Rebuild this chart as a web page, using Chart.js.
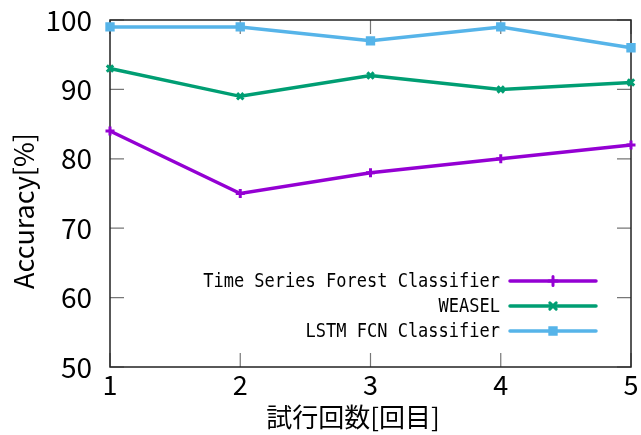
<!DOCTYPE html>
<html>
<head>
<meta charset="utf-8">
<script src="https://cdn.jsdelivr.net/npm/chart.js@4.4.1/dist/chart.umd.min.js"></script>
<style>
  html, body { margin: 0; padding: 0; background: #fff; }
</style>
</head>
<body>
<canvas id="accChart" width="641" height="435"></canvas>
<script>
// data
const trials = [1, 2, 3, 4, 5];
const tsfAcc = [84, 75, 78, 80, 82];
const weaselAcc = [93, 89, 92, 90, 91];
const lstmAcc = [99, 99, 97, 99, 96];
const seriesNames = ['Time Series Forest Classifier', 'WEASEL', 'LSTM FCN Classifier'];
const xTitle = '試行回数[回目]';
const yTitle = 'Accuracy[%]';

const FONT = "'Noto Sans CJK JP', 'Noto Sans', sans-serif";
const toPoints = arr => arr.map((v, i) => ({ x: trials[i], y: v }));

function makeSet(label, data, color, style) {
    return {
        label: label,
        data: toPoints(data),
        borderColor: color,
        backgroundColor: color,
        borderWidth: 3.5,
        pointStyle: style,
        pointRadius: 4.5,
        pointBorderWidth: 3,
        tension: 0,
        clip: false
    };
}

// frame + inward ticks (gnuplot look)
const framePlugin = {
    id: 'frame',
    beforeDatasetsDraw(chart) {
        const { ctx, chartArea: a, scales: { x, y } } = chart;
        const tl = 14;
        ctx.save();
        ctx.strokeStyle = '#777';
        ctx.lineWidth = 1.2;
        ctx.beginPath();
        y.ticks.forEach(t => {
            const py = y.getPixelForValue(t.value);
            ctx.moveTo(a.left, py); ctx.lineTo(a.left + tl, py);
            ctx.moveTo(a.right, py); ctx.lineTo(a.right - tl, py);
        });
        x.ticks.forEach(t => {
            const px = x.getPixelForValue(t.value);
            ctx.moveTo(px, a.bottom); ctx.lineTo(px, a.bottom - tl);
            ctx.moveTo(px, a.top); ctx.lineTo(px, a.top + tl);
        });
        ctx.stroke();
        ctx.strokeStyle = '#222';
        ctx.lineWidth = 1.5;
        ctx.strokeRect(a.left, a.top, a.right - a.left, a.bottom - a.top);
        ctx.restore();
    }
};

// axis titles + key box inside the plot
const labelsPlugin = {
    id: 'labels',
    afterDraw(chart) {
        const { ctx } = chart;
        ctx.save();
        ctx.fillStyle = '#000';
        ctx.textAlign = 'center';
        ctx.textBaseline = 'middle';
        ctx.font = `26px ${FONT}`;
        ctx.fillText(xTitle, 353, 417);
        ctx.translate(24, 211);
        ctx.rotate(-Math.PI / 2);
        ctx.font = `27px ${FONT}`;
        ctx.fillText(yTitle, 0, 0);
        ctx.restore();

        // legend
        const rows = [281, 306, 331];
        chart.data.datasets.forEach((ds, i) => {
            const ry = rows[i];
            ctx.save();
            ctx.fillStyle = '#000';
            ctx.textAlign = 'right';
            ctx.textBaseline = 'middle';
            ctx.font = "20px 'DejaVu Sans Mono', monospace";
            ctx.translate(500, ry + 1);
            ctx.scale(0.85, 1);
            ctx.fillText(ds.label, 0, 0);
            ctx.restore();

            ctx.save();
            ctx.strokeStyle = ds.borderColor;
            ctx.fillStyle = ds.backgroundColor;
            ctx.lineWidth = ds.borderWidth;
            ctx.lineCap = 'round';
            ctx.beginPath();
            ctx.moveTo(510, ry); ctx.lineTo(596, ry);
            ctx.stroke();
            ctx.lineWidth = ds.pointBorderWidth;
            Chart.helpers.drawPoint(ctx, { pointStyle: ds.pointStyle, radius: ds.pointRadius, borderWidth: ds.pointBorderWidth, rotation: 0 }, 553, ry);
            ctx.restore();
        });
    }
};

new Chart(document.getElementById('accChart').getContext('2d'), {
    type: 'line',
    data: {
        datasets: [
            makeSet(seriesNames[0], tsfAcc, '#9400d3', 'cross'),
            makeSet(seriesNames[1], weaselAcc, '#009e73', 'crossRot'),
            makeSet(seriesNames[2], lstmAcc, '#56b4e9', 'rect')
        ]
    },
    options: {
        responsive: false,
        animation: false,
        layout: { padding: { left: 0, right: 10, top: 20, bottom: 0 } },
        plugins: { legend: { display: false }, tooltip: { enabled: false } },
        scales: {
            x: {
                type: 'linear', min: 1, max: 5,
                grid: { display: false, drawTicks: false },
                border: { display: false },
                ticks: { stepSize: 1, padding: 2, color: '#000', font: { family: FONT, size: 27 } },
                afterFit(s) { s.height = 68; s.paddingLeft = 0; s.paddingRight = 0; }
            },
            y: {
                min: 50, max: 100,
                grid: { display: false, drawTicks: false },
                border: { display: false },
                ticks: { stepSize: 10, padding: 18, color: '#000', font: { family: FONT, size: 28 } },
                afterFit(s) { s.width = 110; s.paddingTop = 0; s.paddingBottom = 0; }
            }
        }
    },
    plugins: [framePlugin, labelsPlugin]
});
</script>
</body>
</html>
